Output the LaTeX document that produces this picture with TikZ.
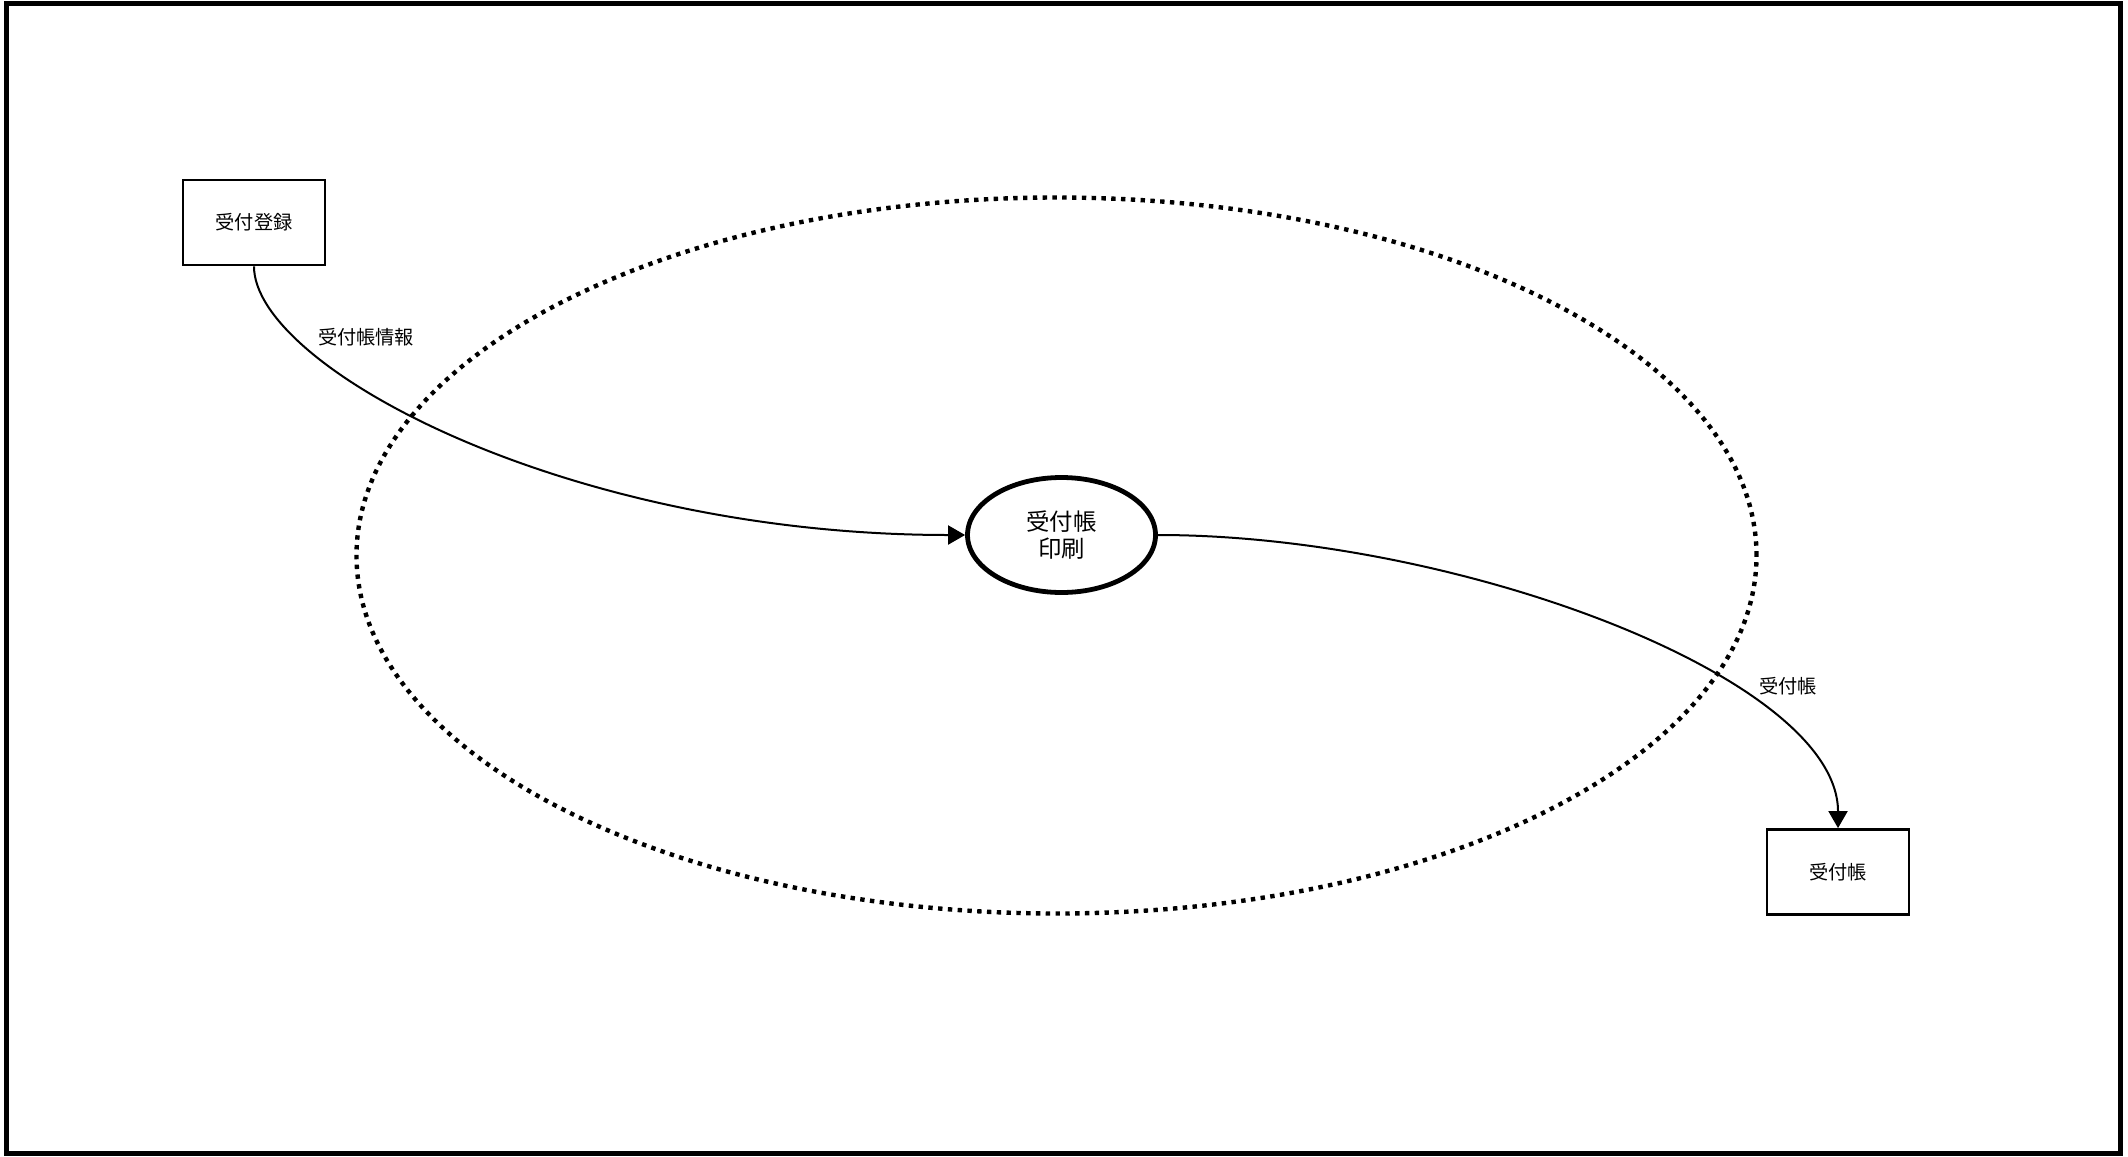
\documentclass[tikz,border=0pt]{standalone}
\usepackage{fontspec}
\setmainfont{Noto Sans CJK JP}
\usetikzlibrary{arrows.meta,positioning,shapes.geometric}
\tikzset{dfdpanel/.style={
  font=\fontsize{9.6pt}{11pt}\selectfont,
  frame/.style={draw=black, line width=2.5pt},
  ext/.style={rectangle, draw=black, line width=1.4pt, fill=white, minimum width=71pt, minimum height=42.5pt, inner sep=0pt},
  proc/.style={ellipse, draw=black, line width=2.4pt, fill=white, minimum width=94pt, minimum height=57.5pt, inner sep=0pt, align=center, font=\fontsize{11.7pt}{13.6pt}\selectfont},
  bound/.style={ellipse, draw=black, line width=2.2pt, dash pattern=on 2.2pt off 2.7pt, minimum width=700pt, minimum height=358pt, inner sep=0pt},
  flow/.style={-{Triangle[length=8.5pt, width=9.5pt]}, line width=1pt},
  flowlab/.style={inner sep=1pt},
}}
\begin{document}
\begin{tikzpicture}[dfdpanel, x=0.5pt, y=-0.5pt]
\useasboundingbox (0,0) rectangle (2128,1156);
\draw[frame] (6,4) rectangle (2120,1153);

% ---- scope of the process ----
\node[bound] (scope) at (1056.5,555.5) {};

% ---- external entities and process ----
\node[ext] (reg) at (254,222.5) {受付登録};
\node[proc] (prt) at (1061.5,535) {受付帳\\印刷};
\node[ext] (book) at (1838,872) {受付帳};

% ---- data flows ----
\draw[flow] (reg.south) .. controls +(0,100) and +(-400,0) .. (prt.west);
\draw[flow] (prt.east) .. controls +(300,0) and +(0,-150) .. (book.north);
\node[flowlab] (lin) at (366,337) {受付帳情報};
\node[flowlab] (lout) at (1788,686) {受付帳};
\end{tikzpicture}
\end{document}
